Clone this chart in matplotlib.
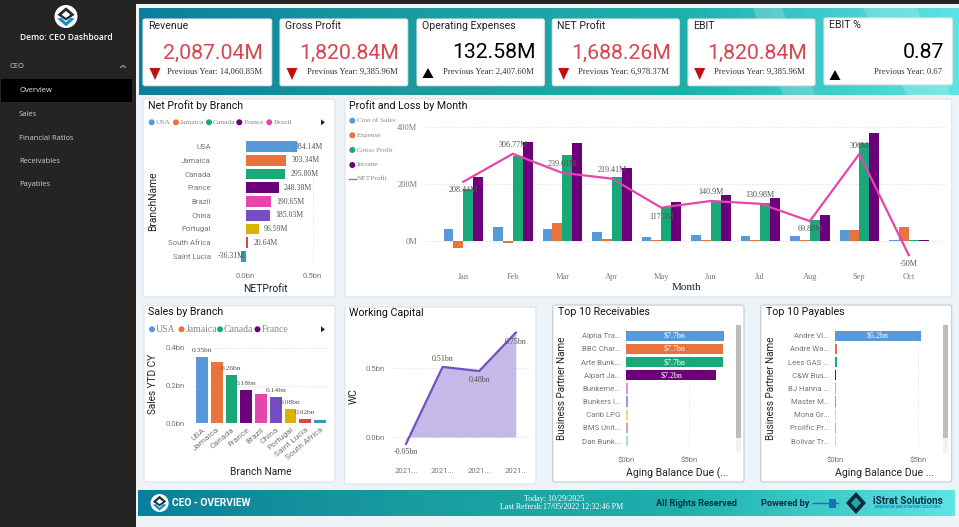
import numpy as np
import matplotlib
matplotlib.use('Agg')
import matplotlib.pyplot as plt
from matplotlib.colors import LinearSegmentedColormap
from matplotlib.patches import Circle, FancyBboxPatch, Polygon, Rectangle

W, H = 959, 527

# KPI cards
kpi_titles = ['Revenue', 'Gross Profit', 'Operating Expenses', 'NET Profit', 'EBIT', 'EBIT %']
kpi_values = ['2,087.04M', '1,820.84M', '132.58M', '1,688.26M', '1,820.84M', '0.87']
kpi_previous = ['Previous Year: 14,060.85M', 'Previous Year: 9,385.96M', 'Previous Year: 2,407.60M',
                'Previous Year: 6,978.37M', 'Previous Year: 9,385.96M', 'Previous Year: 0.67']
kpi_down = [True, True, False, True, True, False]

# menu
menu_items = ['Overview', 'Sales', 'Financial Ratios', 'Receivables', 'Payables']

# Net profit by branch
branches_np = ['USA', 'Jamaica', 'Canada', 'France', 'Brazil', 'China', 'Portugal', 'South Africa', 'Saint Lucia']
net_profit = [384.14, 303.34, 295.80, 248.38, 190.65, 185.03, 96.59, 20.64, -36.31]

# Profit and loss by month
months = ['Jan', 'Feb', 'Mar', 'Apr', 'May', 'Jun', 'Jul', 'Aug', 'Sep', 'Oct']
cost_of_sales = [42, 48, 43, 32, 15, 20, 16, 16, 38, 3]
expense = [-23, -8, 62, 7, 4, 3, 3, 3, 38, 50]
gross_profit = [183, 299, 303, 226, 118, 141, 135, 74, 345, 3]
income = [225, 348, 345, 258, 136, 163, 151, 90, 381, 3]
net_line = [208.44, 306.77, 239.61, 219.41, 117.3, 140.9, 130.98, 69.88, 306, -50]
net_labels = ['208.44M', '306.77M', '239.61M', '219.41M', '117.3M', '140.9M', '130.98M', '69.88M', '306M', '-50M']

# Sales by branch
branches_sales = ['USA', 'Jamaica', 'Canada', 'France', 'Brazil', 'China', 'Portugal', 'Saint Lucia', 'South Africa']
sales_ytd = [0.35, 0.325, 0.256, 0.176, 0.153, 0.137, 0.076, 0.021, 0.016]
sales_labels = ['0.35bn', '', '0.26bn', '0.18bn', '', '0.14bn', '0.08bn', '0.02bn', '']

# Working capital
wc_periods = ['2021...', '2021...', '2021...', '2021...']
wc_values = [-0.05, 0.51, 0.48, 0.76]
wc_labels = ['-0.05bn', '0.51bn', '0.48bn', '0.75bn']

# Top 10 lists
recv_names = ['Alpha Tra...', 'BBC Char...', 'Arte Bunk...', 'Alpart Ja...', 'Bunkeme...',
              'Bunkers I...', 'Carib LPG', 'BMS Unit...', 'Dan Bunk...']
recv_values = [7.72, 7.7, 7.65, 7.14, 0.13, 0.1, 0.1, 0.1, 0.1]
recv_labels = ['$7.7bn', '$7.7bn', '$7.7bn', '$7.2bn', '', '', '', '', '']
pay_names = ['Andre Vi...', 'Andre Wa...', 'Lees GAS ...', 'C&W Bus...', 'BJ Hanna ...',
             'Master M...', 'Mona Gr...', 'Prolific Pr...', 'Bolivar Tr...']
pay_values = [5.18, 0.12, 0.1, 0.08, 0.08, 0.08, 0.07, 0.07, 0.06]
pay_labels = ['$5.2bn', '', '', '', '', '', '', '', '']

# colours
BLUE, ORANGE, GREEN, PURPLE = '#5899DA', '#E8743B', '#19A979', '#6C007B'
PINK, VIOLET, GOLD, RED, TEAL = '#E645AB', '#744EC2', '#D9B300', '#D64550', '#2E9DBA'
palette = [BLUE, ORANGE, GREEN, PURPLE, PINK, VIOLET, GOLD, RED, TEAL]
palette_light = [BLUE, ORANGE, GREEN, PURPLE, '#F08DCB', '#A68FDC', '#EFD873', '#EE9AA3', '#A9D8E6']
PAGE = '#EEF3F8'
GREY = '#777777'
SANS = 'Roboto'
SERIF = 'Liberation Serif'
UI = 'Open Sans'

plt.rcParams['font.family'] = [SANS, 'DejaVu Sans']

fig = plt.figure(figsize=(W / 100, H / 100), dpi=100, facecolor=PAGE)
base = fig.add_axes([0, 0, 1, 1])
base.set_axis_off()

banner_cmap = LinearSegmentedColormap.from_list('banner', ['#0A7F9C', '#1A9C9F', '#1FB0AC', '#5DE4E4'])
ramp = np.linspace(0, 1, 256).reshape(1, -1)


def chart_ax(x0, y0, x1, y1):
    # pixel box, y from the top of the picture
    ax = fig.add_axes([x0 / W, 1 - y1 / H, (x1 - x0) / W, (y1 - y0) / H])
    ax.patch.set_alpha(0)
    for s in ax.spines.values():
        s.set_visible(False)
    ax.tick_params(length=0, labelcolor=GREY, labelsize=5.6)
    return ax


def panel(x0, y0, x1, y1, edge='#DDE3E8', zorder=2):
    base.add_patch(FancyBboxPatch((x0 + 2, y0 + 2), x1 - x0 - 4, y1 - y0 - 4, boxstyle='round,pad=2',
                                  fc='white', ec=edge, lw=0.8, zorder=zorder))


def logo(cx, cy, r):
    base.add_patch(Circle((cx, cy), r, fc='white', ec='none', zorder=5))
    base.add_patch(Polygon([(cx - r * .75, cy - r * .15), (cx, cy - r * .8), (cx + r * .75, cy - r * .15),
                            (cx, cy + r * .35)], fc='#1F2A33', ec='none', zorder=6))
    base.add_patch(Polygon([(cx - r * .38, cy - r * .15), (cx, cy - r * .48), (cx + r * .38, cy - r * .15),
                            (cx, cy + r * .12)], fc='white', ec='none', zorder=7))
    base.add_patch(Polygon([(cx - r * .75, cy + r * .2), (cx, cy + r * .85), (cx + r * .75, cy + r * .2),
                            (cx + r * .4, cy + r * .1), (cx, cy + r * .5), (cx - r * .4, cy + r * .1)],
                           fc='#1B8FD0', ec='none', zorder=6))


# page furniture
base.add_patch(Rectangle((0, 0), W, 3.5, fc='#252423', ec='none', zorder=1))
base.add_patch(Rectangle((0, 0), 135.5, H, fc='#252423', ec='none', zorder=1))
base.imshow(ramp, cmap=banner_cmap, extent=(139, W, 95, 8), aspect='auto', zorder=1)
base.imshow(ramp, cmap=banner_cmap, extent=(138, 955, 516, 490), aspect='auto', zorder=1)
for pts in ([(753, 8), (782, 8), (815, 95), (783, 95)], [(863, 8), (917, 8), (950, 95), (907, 95)]):
    base.add_patch(Polygon(pts, fc='white', alpha=0.2, ec='none', zorder=1.5))
base.set_xlim(0, W)
base.set_ylim(H, 0)

# sidebar
logo(66, 16.5, 11.5)
base.text(66, 37.5, 'Demo: CEO Dashboard', color='white', fontsize=6.1, family=UI, weight='semibold',
          ha='center', va='center', zorder=3)
base.text(10, 66.5, 'CEO', color='#C8C8C8', fontsize=5.5, family=UI, va='center', zorder=3)
base.plot([120.5, 123, 125.5], [67.5, 65.5, 67.5], color='#C8C8C8', lw=0.6, zorder=3)
base.add_patch(Rectangle((1, 79), 131, 22.5, fc='black', ec='none', zorder=2))
for name, y in zip(menu_items, [90.3, 114, 138, 161.3, 185]):
    base.text(19, y, name, color='#F0F0F0' if name == 'Overview' else '#CFCFCF', fontsize=5.5, family=UI,
              va='center', zorder=3)

# KPI cards
card_x = [(143, 271.7), (280, 407.7), (417, 544.3), (552.3, 679.3), (688, 815), (824, 952.3)]
value_right = [263.3, 399.3, 535.3, 670.7, 806.7, 943.7]
prev_right = [261.7, 397.7, 534, 669.3, 805, 942.3]
arrow_x = [155, 292, 428, 563.7, 699.7, 835]
for i, (x0, x1) in enumerate(card_x):
    dy = -1 if i == 5 else 0
    panel(x0, 19 + dy, x1, 85.7 + dy, edge='#E4E8EA')
    base.text(x0 + 5, 25.7 + dy, kpi_titles[i], fontsize=7.6, color='#222222', va='center', zorder=3)
    down = kpi_down[i]
    base.text(value_right[i], 53, kpi_values[i], fontsize=15.3, color=RED if down else 'black',
              ha='right', va='center', zorder=3)
    base.text(prev_right[i], 72.3, kpi_previous[i], fontsize=6.2, family=SERIF, color='#333333',
              ha='right', va='center', zorder=3)
    ax_ = arrow_x[i]
    if down:
        tri = [(ax_ - 5.5, 68), (ax_ + 5.5, 68), (ax_, 80)]
    else:
        top = 70 if i == 5 else 68
        tri = [(ax_ - 5.5, top + 10), (ax_ + 5.5, top + 10), (ax_, top)]
    base.add_patch(Polygon(tri, fc='#C01010' if down else 'black', ec='none', zorder=3))

# chart panels
panel(143, 99, 335, 297)
panel(345, 99, 951.7, 297)
panel(144, 305.7, 335, 482)
panel(344.7, 307, 536, 484)
panel(552.7, 305, 744, 482, edge='#C4C8CC')
panel(760.7, 305, 951.7, 482, edge='#C4C8CC')

titles = [(148, 105.3, 'Net Profit by Branch'), (349, 105.3, 'Profit and Loss by Month'), (148, 312, 'Sales by Branch'),
          (349, 313.3, 'Working Capital'), (557.5, 312, 'Top 10 Receivables'), (765.5, 312, 'Top 10 Payables')]
for x, y, t in titles:
    base.text(x, y, t, fontsize=7.7, color='#111111', va='center', zorder=3)


def legend_row(items, xs, y, size, r=3.0):
    for name, x, c in zip(items, xs, palette):
        base.add_patch(Circle((x, y), r, fc=c, ec='none', zorder=3))
        base.text(x + r + 1, y, name, fontsize=size, family=SERIF, color='#888888', va='center', zorder=3)


legend_row(branches_np[:5], [151.7, 176, 209, 239.3, 269.3], 122.3, 5.4)
legend_row(branches_np[:4], [152, 181.5, 220, 257.5], 329.3, 7.0)
for y in (122.3, 329.3):
    base.add_patch(Polygon([(321, y - 3), (321, y + 3), (325, y)], fc='#222222', ec='none', zorder=3))

# Net Profit by Branch
scale = 0.1336
zero = 245.7
ax = chart_ax(215, 140, 325, 263)
ax.set_xlim((215 - zero) / scale, (325 - zero) / scale)
ax.set_ylim(8.49, -0.49)
ypos = np.arange(len(branches_np))
ax.barh(ypos, net_profit, height=0.78, color=palette, zorder=2)
ax.set_yticks(ypos, branches_np)
ax.set_xticks([0, 500], ['0.0bn', '0.5bn'])
ax.tick_params(axis='y', pad=3)
ax.tick_params(axis='x', pad=7)
ax.grid(axis='x', color='#D5D5D5', ls=':', lw=0.6, zorder=0)
ax.set_axisbelow(True)
for y, v in zip(ypos, net_profit):
    if v < 0:
        ax.annotate(f'{v:.2f}M', (0, y), xytext=(-1, 0), textcoords='offset points', ha='right', va='center',
                    family=SERIF, fontsize=5.6, color='#555555', zorder=3)
    else:
        ax.annotate(f'{v:.2f}M', (v, y), xytext=(-2 if v > 350 else 3.6, 0), textcoords='offset points',
                    va='center', family=SERIF, fontsize=5.6, color='#555555', zorder=3)
base.text(152.7, 201, 'BranchName', fontsize=7.4, rotation=90, color='#222222', ha='center', va='center', zorder=3)
base.text(265, 288.5, 'NETProfit', fontsize=7.4, color='#222222', ha='center', va='center', zorder=3)

# Profit and Loss by Month
scale = 113.7 / 400
ax = chart_ax(425, 120, 946, 262)
ax.set_xlim((425 - 463.3) / 49.5, (946 - 463.3) / 49.5)
ax.set_ylim((241 - 262) / scale, (241 - 120) / scale)
xpos = np.arange(len(months))
for k, (vals, c) in enumerate(zip([cost_of_sales, expense, gross_profit, income], palette)):
    ax.bar(xpos + (k - 1.5) * 0.2, vals, width=0.196, color=c, zorder=2)
ax.plot(xpos, net_line, color=PINK, lw=1.6, zorder=3, solid_joinstyle='miter')
ax.set_yticks([0, 200, 400], ['0M', '200M', '400M'])
ax.set_xticks(xpos, months)
for lab in ax.get_xticklabels() + ax.get_yticklabels():
    lab.set_family(SERIF)
    lab.set_fontsize(6)
ax.tick_params(axis='y', pad=5.5)
ax.tick_params(axis='x', pad=8)
ax.grid(axis='y', color='#D5D5D5', ls=':', lw=0.6, zorder=0)
ax.set_axisbelow(True)
label_dy = [-8.7, 8.5, 9, 8.5, -9, 9, 8.5, -8, 8, -8.7]  # px above the point
for x, v, t, d in zip(xpos, net_line, net_labels, label_dy):
    ax.annotate(t, (x, v), xytext=(0, d * 0.72), textcoords='offset points', ha='center', va='center',
                family=SERIF, fontsize=5.9, color='#555555', zorder=4)
legend_names = ['Cost of Sales', 'Expense', 'Gross Profit', 'Income']
for name, y, c in zip(legend_names, [120.7, 135.3, 150, 165], palette):
    base.add_patch(Circle((352.3, y), 3, fc=c, ec='none', zorder=3))
    base.text(356.7, y, name, fontsize=5.2, family=SERIF, color='#888888', va='center', zorder=3)
base.plot([349, 356], [179, 179], color=PINK, lw=1, zorder=3)
base.text(356.7, 178.7, 'NETProfit', fontsize=5.2, family=SERIF, color='#888888', va='center', zorder=3)
base.text(686, 287.7, 'Month', fontsize=8, family=SERIF, color='#222222', ha='center', va='center', zorder=3)

# Sales by Branch
scale = 187.5
ax = chart_ax(190, 340, 328, 423)
ax.set_xlim((190 - 202) / 14.75, (328 - 202) / 14.75)
ax.set_ylim(0, 83 / scale)
xpos = np.arange(len(branches_sales))
ax.bar(xpos, sales_ytd, width=0.8, color=palette, zorder=2)
ax.set_yticks([0, 0.2, 0.4], ['0.0bn', '0.2bn', '0.4bn'])
ax.set_xticks(xpos, branches_sales)
plt.setp(ax.get_xticklabels(), rotation=40, ha='right', rotation_mode='anchor', fontsize=6)
ax.tick_params(axis='y', pad=4)
ax.tick_params(axis='x', pad=2.5)
ax.grid(axis='y', color='#D5D5D5', ls=':', lw=0.6, zorder=0)
ax.set_axisbelow(True)
for x, v, t in zip(xpos, sales_ytd, sales_labels):
    ax.annotate(t, (x, v), xytext=(0, 3), textcoords='offset points', ha='center', va='bottom',
                family=SERIF, fontsize=5.4, color='#555555', zorder=4)
base.text(152.7, 384, 'Sales YTD CY', fontsize=7.2, rotation=90, color='#222222', ha='center', va='center', zorder=3)
base.text(261, 472, 'Branch Name', fontsize=7.3, color='#222222', ha='center', va='center', zorder=3)

# Working Capital
scale = 137.4
ax = chart_ax(392, 325, 530, 450)
ax.set_xlim((392 - 406) / 36.6, (530 - 406) / 36.6)
ax.set_ylim((437 - 450) / scale, (437 - 325) / scale)
xpos = np.arange(len(wc_values))
ax.fill_between(xpos, wc_values, 0, color='#C6B9E8', lw=0, zorder=1, interpolate=True)
ax.plot(xpos, wc_values, color=VIOLET, lw=1.6, zorder=3)
ax.set_yticks([0, 0.5], ['0.0bn', '0.5bn'])
ax.set_xticks(xpos, wc_periods)
ax.tick_params(axis='y', pad=5)
ax.tick_params(axis='x', pad=13)
ax.grid(axis='y', color='#D5D5D5', ls=':', lw=0.6, zorder=0)
ax.set_axisbelow(True)
for x, v, t, d in zip(xpos, wc_values, wc_labels, [-6, 6, -6.5, -6.5]):
    ax.annotate(t, (x, v), xytext=(0, d), textcoords='offset points', ha='center', va='center',
                family=SERIF, fontsize=5.8, color='#555555', zorder=4)
base.text(354, 396, 'WC', fontsize=7.4, rotation=90, color='#222222', ha='center', va='center', zorder=3)


def top_bars(x_zero, x_right, px_per_bn, names, values, labels):
    ax = chart_ax(x_zero, 329, x_right, 447)
    ax.set_xlim(0, (x_right - x_zero) / px_per_bn)
    ax.set_ylim((447 - 335.7) / 13.17, (329 - 335.7) / 13.17)
    ypos = np.arange(len(names))
    ax.barh(ypos, values, height=0.78, color=palette_light, zorder=2)
    ax.set_yticks(ypos, names)
    ax.set_xticks([0, 5], ['$0bn', '$5bn'])
    ax.tick_params(axis='y', pad=4)
    ax.tick_params(axis='x', pad=7)
    ax.grid(axis='x', color='#D5D5D5', ls=':', lw=0.6, zorder=0)
    ax.set_axisbelow(True)
    for y, v, t in zip(ypos, values, labels):
        ax.text(v / 2, y, t, color='white', family=SERIF, fontsize=5.8, ha='center', va='center', zorder=4)


# Top 10 Receivables
top_bars(626.3, 733, 12.6, recv_names, recv_values, recv_labels)
base.text(562.3, 388.3, 'Business Partner Name', fontsize=7.1, rotation=90, color='#222222', ha='center', va='center', zorder=3)
base.text(677, 473, 'Aging Balance Due (...', fontsize=7.6, color='#222222', ha='center', va='center', zorder=3)
base.add_patch(Rectangle((736, 325), 5.3, 128, fc='#F2F2F2', ec='none', zorder=3))
base.add_patch(Rectangle((736, 325), 5.3, 113, fc='#BDBDBD', ec='none', zorder=3))

# Top 10 Payables
top_bars(835, 940, 16.6, pay_names, pay_values, pay_labels)
base.text(770.7, 388.3, 'Business Partner Name', fontsize=7.1, rotation=90, color='#222222', ha='center', va='center', zorder=3)
base.text(884.3, 473, 'Aging Balance Due ...', fontsize=7.6, color='#222222', ha='center', va='center', zorder=3)
base.add_patch(Rectangle((943, 325), 5, 128, fc='#F2F2F2', ec='none', zorder=3))
base.add_patch(Rectangle((943, 325), 5, 113, fc='#BDBDBD', ec='none', zorder=3))

# footer
logo(159.6, 503, 9)
base.text(172, 503.5, 'CEO - OVERVIEW', color='white', fontsize=7.4, weight='bold', va='center', zorder=3)
base.text(554, 498.7, 'Today: 10/29/2025', color='white', fontsize=5.8, family=SERIF, ha='center', va='center', zorder=3)
base.text(561.5, 506.7, 'Last Refresh:17/05/2022 12:32:46 PM', color='white', fontsize=5.8, family=SERIF,
          ha='center', va='center', zorder=3)
base.text(696, 503, 'All Rights Reserved', color='#0B2F45', fontsize=6.6, weight='bold', ha='center', va='center', zorder=3)
base.text(785.5, 503, 'Powered by', color='#0B2F45', fontsize=6.7, weight='bold', ha='center', va='center', zorder=3)
base.plot([813, 838], [503, 503], color='#1B6FB5', lw=1, zorder=3)
base.add_patch(Rectangle((829, 498.5), 7, 9, fc='#1B6FB5', ec='none', zorder=3))
base.add_patch(Polygon([(846, 503), (856, 492), (866, 503), (856, 514)], fc='#0E2A3C', ec='none', zorder=3))
base.add_patch(Polygon([(851, 503), (856, 497.5), (861, 503), (856, 508.5)], fc='#1FA6B0', ec='none', zorder=4))
base.text(908, 501.5, 'iStrat Solutions', color='#0B2F45', fontsize=7.2, weight='bold', ha='center', va='center', zorder=3)
base.text(908, 507, 'INNOVATIVE AND STRATEGIC SOLUTIONS', color='#1B7FB5', fontsize=2.4, weight='bold',
          ha='center', va='center', zorder=3)

fig.savefig('out.png', dpi=100, facecolor=PAGE)
